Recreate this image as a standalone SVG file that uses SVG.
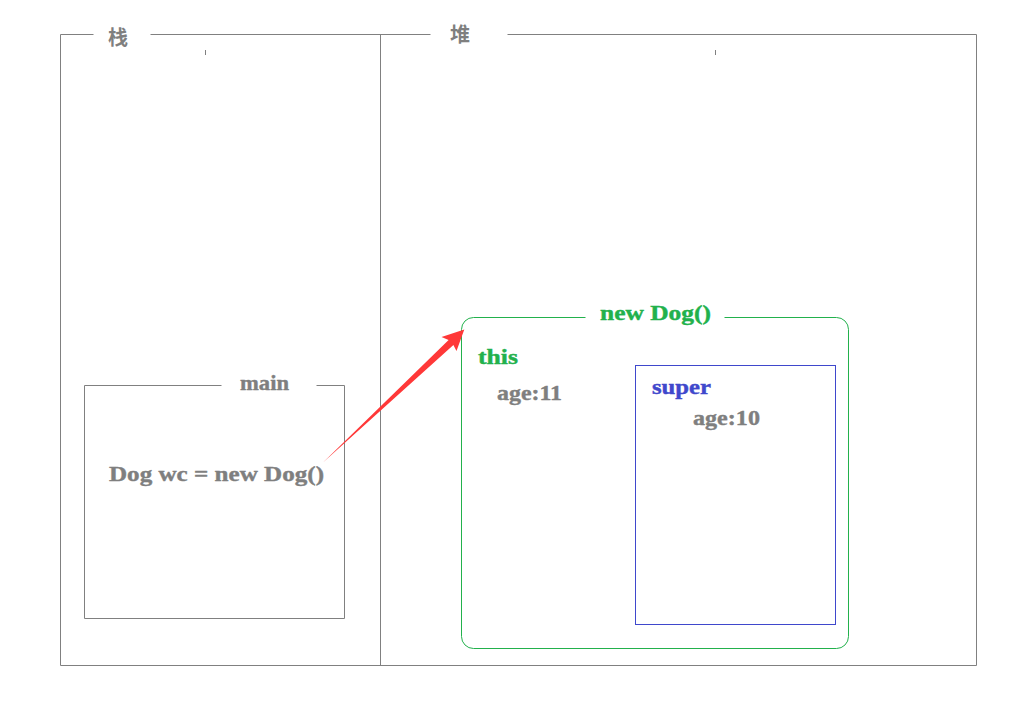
<svg xmlns="http://www.w3.org/2000/svg" width="1036" height="705" viewBox="0 0 1036 705">
<style>
.frame{fill:none;stroke:#808080;stroke-width:1}
.t{font-family:"Liberation Serif","Noto Sans CJK SC",serif;font-weight:bold;font-size:21px;stroke-width:0.4}
.gray{fill:#7f7f7f;stroke:#7f7f7f}
.green{fill:#22b14c;stroke:#22b14c}
.blue{fill:#3f48cc;stroke:#3f48cc}
.cjk{font-family:"Noto Sans CJK SC","Liberation Serif",sans-serif;font-weight:bold;font-size:20px;fill:#7f7f7f}
</style>
<rect width="1036" height="705" fill="#ffffff"/>
<g id="frame">
<path class="frame" d="M93.5,34.5 H60.5 V665.5 H976.5 V34.5 H507.5 M430.5,34.5 H150.5 M380.5,34.5 V665.5 M205.5,50 V55 M715.5,50 V55"/>
<text class="cjk" x="108" y="45">栈</text>
<text class="cjk" x="450" y="42">堆</text>
</g>
<g id="main">
<path class="frame" d="M221.5,385.5 H84.5 V618.5 H344.5 V385.5 H316.5"/>
<text class="t gray" x="240" y="390" textLength="49" lengthAdjust="spacingAndGlyphs">main</text>
<text class="t gray" x="109" y="481" textLength="215" lengthAdjust="spacingAndGlyphs">Dog wc = new Dog()</text>
</g>
<g id="newdog">
<path d="M585.5,317.5 H473.5 A12,12 0 0 0 461.5,329.5 V636.5 A12,12 0 0 0 473.5,648.5 H836.5 A12,12 0 0 0 848.5,636.5 V329.5 A12,12 0 0 0 836.5,317.5 H724.5" fill="none" stroke="#22b14c" stroke-width="1"/>
<text class="t green" x="600" y="320" textLength="111" lengthAdjust="spacingAndGlyphs">new Dog()</text>
<text class="t green" x="478" y="364" textLength="40" lengthAdjust="spacingAndGlyphs">this</text>
<text class="t gray" x="497" y="400" textLength="65" lengthAdjust="spacingAndGlyphs">age:11</text>
</g>
<g id="super">
<rect x="635.5" y="365.5" width="200" height="259" fill="none" stroke="#3f48cc" stroke-width="1"/>
<text class="t blue" x="652" y="394" textLength="59" lengthAdjust="spacingAndGlyphs">super</text>
<text class="t gray" x="693" y="425" textLength="67" lengthAdjust="spacingAndGlyphs">age:10</text>
</g>
<g id="connectors">
<polygon points="323,462.5 448.6,340 441.5,337 464.3,329.5 456.5,351 453.4,345" fill="#ff3838"/>
</g>
</svg>
